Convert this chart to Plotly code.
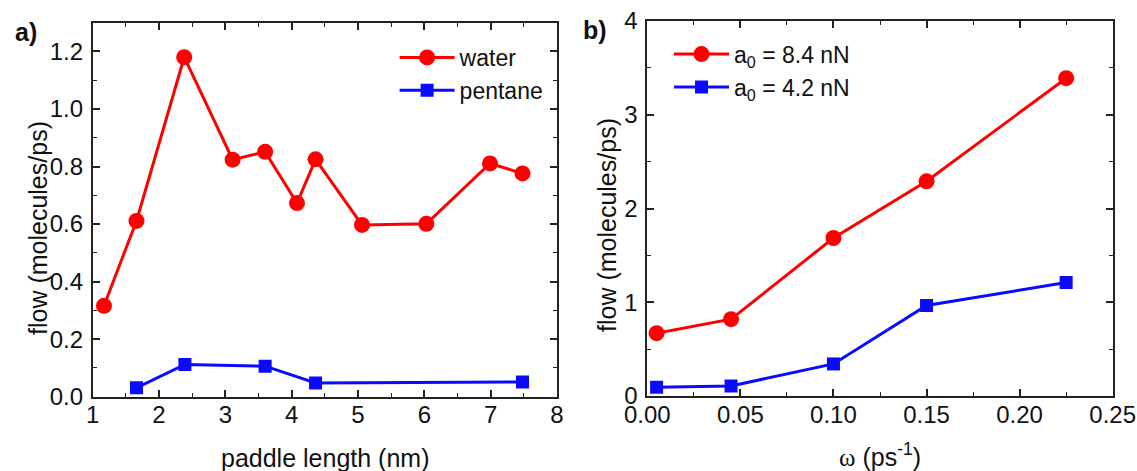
import plotly.graph_objects as go

# Panel a data
paddle_water = [1.17, 1.66, 2.38, 3.11, 3.60, 4.08, 4.36, 5.06, 6.03, 6.99, 7.48]
flow_water = [0.316, 0.611, 1.180, 0.824, 0.851, 0.673, 0.825, 0.597, 0.601, 0.811, 0.776]
paddle_pentane = [1.66, 2.39, 3.60, 4.36, 7.48]
flow_pentane = [0.031, 0.112, 0.106, 0.048, 0.051]

# Panel b data
omega = [0.005, 0.045, 0.100, 0.150, 0.225]
flow_a84 = [0.67, 0.82, 1.685, 2.29, 3.39]
flow_a42 = [0.093, 0.107, 0.342, 0.965, 1.21]

FONT = "Liberation Sans, Arial, sans-serif"
RED = "#ff0000"
BLUE = "#0a0aff"
INK = "#111111"

W, H = 1137, 471


def px(x):
    return x / W


def py(y):
    return 1 - y / H


fig = go.Figure()

fig.add_trace(go.Scatter(x=paddle_water, y=flow_water, mode="lines+markers", name="water",
                         line=dict(color=RED, width=3), marker=dict(symbol="circle", size=16, color=RED),
                         xaxis="x", yaxis="y", legend="legend"))
fig.add_trace(go.Scatter(x=paddle_pentane, y=flow_pentane, mode="lines+markers", name="pentane",
                         line=dict(color=BLUE, width=3), marker=dict(symbol="square", size=13, color=BLUE),
                         xaxis="x", yaxis="y", legend="legend"))
fig.add_trace(go.Scatter(x=omega, y=flow_a84, mode="lines+markers", name="a<sub>0</sub> = 8.4 nN",
                         line=dict(color=RED, width=3), marker=dict(symbol="circle", size=16, color=RED),
                         xaxis="x2", yaxis="y2", legend="legend2"))
fig.add_trace(go.Scatter(x=omega, y=flow_a42, mode="lines+markers", name="a<sub>0</sub> = 4.2 nN",
                         line=dict(color=BLUE, width=3), marker=dict(symbol="square", size=13, color=BLUE),
                         xaxis="x2", yaxis="y2", legend="legend2"))

minor_style = dict(ticks="inside", ticklen=4, tickwidth=1.3, tickcolor="#222222")
axis_common = dict(showline=True, linecolor="#222222", linewidth=1.6, mirror="ticks",
                   ticks="inside", ticklen=7, tickwidth=1.6, tickcolor="#222222",
                   showgrid=False, zeroline=False, automargin=False,
                   ticklabeloverflow="allow",
                   tickfont=dict(family=FONT, size=24, color=INK))

fig.update_layout(
    width=W, height=H,
    margin=dict(l=0, r=0, t=0, b=0),
    paper_bgcolor="white", plot_bgcolor="white",
    showlegend=True,
    xaxis=dict(axis_common, domain=[px(92.7), px(557)], range=[1, 8], dtick=1, tick0=0,
               ticklabelstandoff=-4, minor=dict(minor_style, dtick=0.5), anchor="y"),
    yaxis=dict(axis_common, domain=[py(396.7), py(22.7)], range=[0, 1.3], dtick=0.2, tick0=0,
               tickformat=".1f", ticklabelstandoff=3,
               minor=dict(minor_style, dtick=0.1), anchor="x"),
    xaxis2=dict(axis_common, domain=[px(647.3), px(1112.7)], range=[0, 0.25], dtick=0.05, tick0=0,
                tickformat=".2f", ticklabelstandoff=-4,
                minor=dict(minor_style, dtick=0.025), anchor="y2"),
    yaxis2=dict(axis_common, domain=[py(396), py(21)], range=[0, 4], dtick=1, tick0=0,
                ticklabelstandoff=3, minor=dict(minor_style, dtick=0.5), anchor="x2"),
    legend=dict(x=px(394.6), y=py(36), xanchor="left", yanchor="top", bgcolor="rgba(0,0,0,0)",
                font=dict(family=FONT, size=23, color=INK), itemwidth=55, tracegroupgap=0),
    legend2=dict(x=px(669), y=py(32.6), xanchor="left", yanchor="top", bgcolor="rgba(0,0,0,0)",
                 font=dict(family=FONT, size=23, color=INK), itemwidth=55, tracegroupgap=0),
)

annotations = [
    dict(text="<b>a)</b>", x=13, y=32, xanchor="left", size=25, angle=0),
    dict(text="<b>b)</b>", x=581, y=30, xanchor="left", size=25, angle=0),
    dict(text="paddle length (nm)", x=(92.7 + 557) / 2, y=458, xanchor="center", size=25, angle=0),
    dict(text="<span style='font-family:Liberation Serif'>ω</span> (ps<sup>-1</sup>)",
         x=(647.3 + 1112.7) / 2, y=455, xanchor="center", size=25, angle=0),
    dict(text="flow (molecules/ps)", x=38, y=228, xanchor="center", size=25, angle=-90),
    dict(text="flow (molecules/ps)", x=607, y=225, xanchor="center", size=25, angle=-90),
]
for a in annotations:
    fig.add_annotation(text=a["text"], x=px(a["x"]), y=py(a["y"]), xref="paper", yref="paper",
                       showarrow=False, xanchor=a["xanchor"], yanchor="middle", textangle=a["angle"],
                       font=dict(family=FONT, size=a["size"], color=INK))

# remove the default page margin so the figure fills the window exactly
fig.write_html("out.html", config={"displayModeBar": False},
               post_script="document.body.style.margin='0';document.body.style.overflow='hidden';")
